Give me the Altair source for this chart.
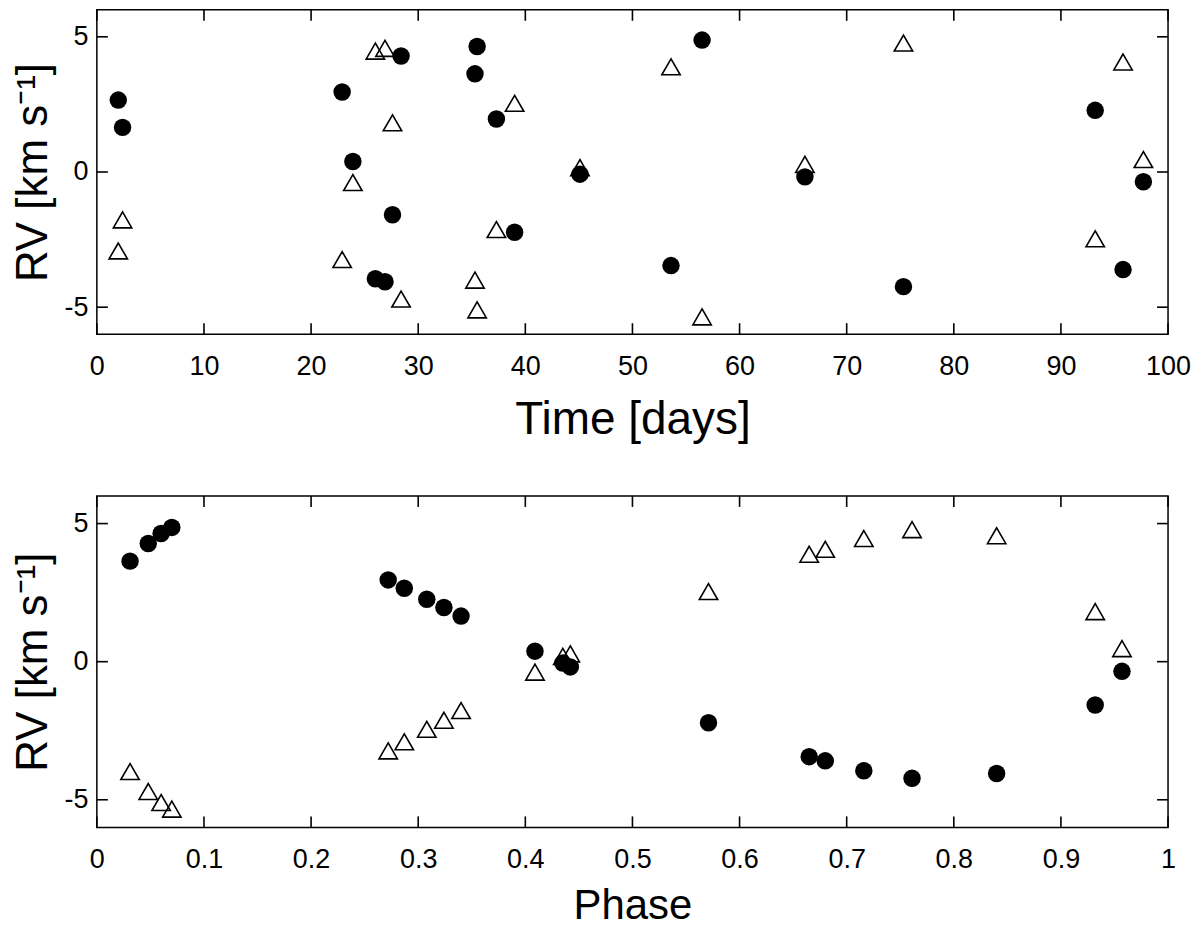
import altair as alt
import pandas as pd

# ---- Top panel: RV versus time ----
time_days = [2.0, 2.4, 22.9, 23.9, 26.0, 26.9, 27.6, 28.4, 35.3, 35.5,
             37.3, 39.0, 45.1, 53.6, 56.5, 66.1, 75.3, 93.2, 95.8, 97.7]
rv_circle_time = [2.66, 1.65, 2.96, 0.39, -3.95, -4.06, -1.58, 4.29, 3.63, 4.64,
                  1.96, -2.23, -0.08, -3.46, 4.88, -0.18, -4.24, 2.28, -3.61, -0.36]
rv_triangle_time = [-2.92, -1.77, -3.24, -0.39, 4.47, 4.57, 1.82, -4.70, -4.00, -5.10,
                    -2.13, 2.54, 0.16, 3.89, -5.36, 0.28, 4.77, -2.47, 4.07, 0.46]

# ---- Bottom panel: RV versus phase ----
phase = [0.031, 0.048, 0.060, 0.070, 0.272, 0.287, 0.308, 0.324, 0.340, 0.409,
         0.435, 0.442, 0.571, 0.665, 0.680, 0.716, 0.761, 0.840, 0.932, 0.957]
rv_circle_phase = [3.64, 4.28, 4.64, 4.86, 2.96, 2.66, 2.26, 1.96, 1.65, 0.38,
                   -0.05, -0.19, -2.21, -3.44, -3.59, -3.95, -4.22, -4.05, -1.57, -0.35]
rv_triangle_phase = [-3.98, -4.70, -5.10, -5.34, -3.23, -2.90, -2.45, -2.12, -1.77, -0.38,
                     0.19, 0.28, 2.54, 3.89, 4.07, 4.46, 4.78, 4.56, 1.81, 0.47]

# ---- Tick values ----
time_ticks = [0, 10, 20, 30, 40, 50, 60, 70, 80, 90, 100]
phase_ticks = [0, 0.1, 0.2, 0.3, 0.4, 0.5, 0.6, 0.7, 0.8, 0.9, 1]
rv_ticks = [-5, 0, 5]

W = 1073
TICK_LEN = 11
INK = "black"


def panel(xs, ys_circle, ys_tri, xticks, xdomain, xtitle, height, title_pad, title_size):
    d_circ = pd.DataFrame({"x": xs, "y": ys_circle})
    d_tri = pd.DataFrame({"x": xs, "y": ys_tri})
    d_xt = pd.DataFrame({"x": xticks})
    d_yt = pd.DataFrame({"y": rv_ticks})

    X = alt.X("x:Q",
              scale=alt.Scale(domain=xdomain, nice=False, zero=False),
              axis=alt.Axis(values=xticks, title=xtitle, titlePadding=title_pad,
                            titleFontSize=title_size,
                            labelExpr="toString(datum.value)"))
    Y = alt.Y("y:Q",
              scale=alt.Scale(domain=[-6, 6], nice=False, zero=False),
              axis=alt.Axis(values=rv_ticks, title="RV [km s\u207b\u00b9]",
                            labelExpr="toString(datum.value)"))

    half = TICK_LEN / 2
    tick_v = dict(color=INK, thickness=1.6, size=TICK_LEN, orient="vertical", opacity=1)
    tick_h = dict(color=INK, thickness=1.6, size=TICK_LEN, orient="horizontal", opacity=1)
    xt_bottom = alt.Chart(d_xt).mark_tick(**tick_v).encode(x=X, y=alt.value(height - half))
    xt_top = alt.Chart(d_xt).mark_tick(**tick_v).encode(x=X, y=alt.value(half))
    yt_left = alt.Chart(d_yt).mark_tick(**tick_h).encode(y=Y, x=alt.value(half))
    yt_right = alt.Chart(d_yt).mark_tick(**tick_h).encode(y=Y, x=alt.value(W - half))

    tri = alt.Chart(d_tri).mark_point(
        shape="triangle-up", filled=False, stroke=INK, strokeWidth=1.6,
        size=340, opacity=1).encode(x=X, y=Y)
    circ = alt.Chart(d_circ).mark_circle(
        color=INK, size=306, opacity=1).encode(x=X, y=Y)

    return alt.layer(xt_bottom, xt_top, yt_left, yt_right, tri, circ).properties(
        width=W, height=height)


top = panel(time_days, rv_circle_time, rv_triangle_time, time_ticks, [0, 100],
            "Time [days]", 325, 16, 46)
bottom = panel(phase, rv_circle_phase, rv_triangle_phase, phase_ticks, [0, 1],
               "Phase", 332, 11, 42)

chart = alt.vconcat(top, bottom, spacing=52).properties(
    padding={"left": 3, "top": 0, "right": 0, "bottom": 0}
).configure(font="Liberation Sans").configure_view(
    stroke=INK, strokeWidth=1.5
).configure_axis(
    domain=False, ticks=False, tickSize=0, grid=False,
    labelFont="Liberation Sans", labelFontSize=27, labelColor=INK,
    titleFont="Liberation Sans", titleFontSize=44, titleFontWeight="normal",
    titleColor=INK, labelFlush=False, labelOverlap=False
).configure_axisX(
    labelPadding=19, minExtent=47, maxExtent=47
).configure_axisY(
    labelPadding=9, titlePadding=7, minExtent=34, maxExtent=34
)

chart.save("out.html", embed_options={"renderer": "svg", "actions": False})
